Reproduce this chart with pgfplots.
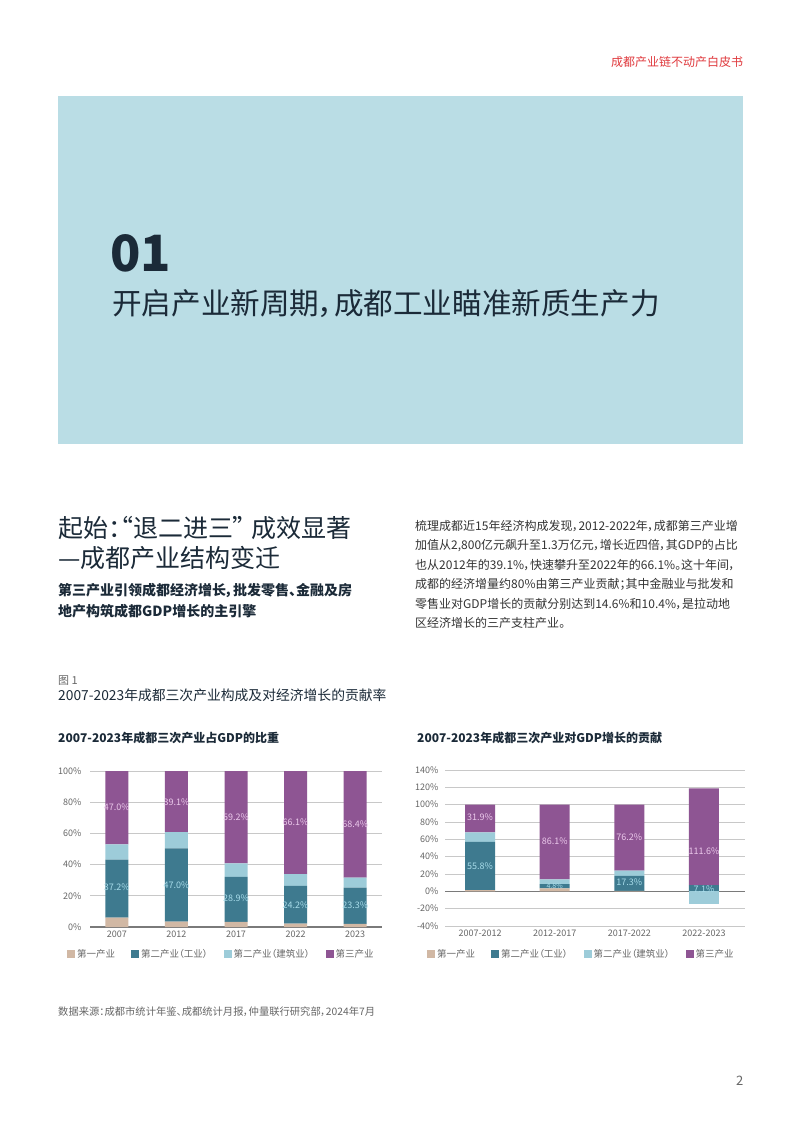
\documentclass[border=0pt]{standalone}
\usepackage{fontspec}
\setmainfont{Noto Sans CJK SC}[RawFeature=+palt]
\usepackage{pgfplots}
\pgfplotsset{compat=1.18}
\usepackage{pgfplotstable}
\pgfkeys{/pgf/number format/assume math mode=true}

\definecolor{cPri}{HTML}{D1B8A4}
\definecolor{cInd}{HTML}{3E7A8F}
\definecolor{cCon}{HTML}{9DCCD9}
\definecolor{cTer}{HTML}{8E5593}
\definecolor{cBox}{HTML}{BADDE5}
\definecolor{cNavy}{HTML}{1B2A38}
\definecolor{cText}{HTML}{333333}
\definecolor{cRed}{HTML}{E03A3E}
\definecolor{cGrid}{HTML}{C8C8C8}
\definecolor{cBase}{HTML}{7A7A7A}
\definecolor{cTick}{HTML}{666666}
\definecolor{cLabP}{HTML}{EBC9EB}
\definecolor{cLabT}{HTML}{A8DCEA}

% Left chart: share of GDP
\pgfplotstableread{
x pri ind con ter
0 6.0 37.2 9.8 47.0
1 3.4 47.0 10.5 39.1
2 3.3 28.9 8.6 59.2
3 2.2 24.2 7.5 66.1
4 2.0 23.3 6.3 68.4
}\leftdata
\pgfplotstableread{
x y v
0 76.7 47.0
1 80.0 39.1
2 70.3 59.2
3 67.0 66.1
4 65.8 68.4
}\leftterlab
\pgfplotstableread{
x y v
0 25.2 37.2
1 27.0 47.0
2 18.6 28.9
3 14.3 24.2
4 13.7 23.3
}\leftindlab

% Right chart: contribution to GDP growth
\pgfplotstableread{
x pri ind con ter
0 1.3 55.8 11.0 31.9
1 3.4 4.8 5.7 86.1
2 0.6 17.3 5.9 76.2
3 0.0 7.1 0.0 111.6
}\rightdata
\pgfplotstableread{
x y
3 -14.4
}\rightneg
\pgfplotstableread{
x y v
0 85.1 31.9
1 57.4 86.1
2 63.0 76.2
3 46.5 111.6
}\rightterlab
\pgfplotstableread{
x y v
0 29.4 55.8
2 10.0 17.3
3 2.0 7.1
}\rightindlab
\pgfplotstableread{
x y v
1 6.3 4.8
}\rightsmalllab

\pgfplotsset{
  barchart/.style={
    scale only axis,
    ybar stacked,
    axis line style={draw=none},
    tick style={draw=none},
    ymajorgrids,
    grid style={cGrid, line width=0.8pt},
    tick label style={font=\fontsize{9}{9}\selectfont, text=cTick},
    xtick=data,
    extra y ticks={0},
    extra y tick labels={},
    extra y tick style={grid style={cBase, line width=1.1pt}},
    legend columns=4,
    legend cell align=left,
    legend style={draw=none, fill=none, inner sep=0pt,
      font=\fontsize{9.5}{9.5}\selectfont, text=cTick,
      /tikz/every even column/.append style={column sep=14pt}},
    legend image code/.code={\fill[##1] (0pt,-4pt) rectangle (8pt,4pt);},
  },
  labelaxis/.style={scale only axis, hide axis, clip=false},
  lab/.style={only marks, mark=*, mark size=0pt, mark options={draw=none, fill=none},
    point meta=explicit,
    nodes near coords={\pgfmathprintnumber[fixed, fixed zerofill, precision=1]{\pgfplotspointmeta}\%},
    every node near coord/.append style={anchor=center, text=#1, font=\fontsize{9}{9}\selectfont}},
}

\begin{document}
\begin{tikzpicture}[x=1pt,y=1pt]
\useasboundingbox (0,0) rectangle (802,-1133);
\fill[white] (0,0) rectangle (802,-1133);

% header
\node[anchor=base west, inner sep=0, text=cRed, font=\fontsize{12}{12}\selectfont] at (611,-66.5) {成都产业链不动产白皮书};

% banner
\fill[cBox] (58,-96) rectangle (743,-444);
\node[anchor=base west, inner sep=0, text=cNavy, font=\fontsize{50}{50}\selectfont\bfseries] at (110,-271) {01};
\node[anchor=base west, inner sep=0, text=cNavy, font=\fontsize{29.6}{29.6}\selectfont] at (112,-314) {开启产业新周期，成都工业瞄准新质生产力};

% section heading
\node[anchor=base west, inner sep=0, text=cNavy, font=\fontsize{25}{25}\selectfont] at (58,-537) {起始：“退二进三” 成效显著};
\node[anchor=base west, inner sep=0, text=cNavy, font=\fontsize{25}{25}\selectfont] at (58,-567) {—成都产业结构变迁};
\node[anchor=base west, inner sep=0, text=cNavy, font=\fontsize{14}{14}\selectfont\bfseries] at (58,-595) {第三产业引领成都经济增长，批发零售、金融及房};
\node[anchor=base west, inner sep=0, text=cNavy, font=\fontsize{14}{14}\selectfont\bfseries] at (58,-616) {地产构筑成都GDP增长的主引擎};

% paragraph
\begin{scope}[every node/.style={anchor=base west, inner sep=0, text=cText, font=\fontsize{12}{12}\selectfont}]
\node at (415,-530) {梳理成都近15年经济构成发现，2012-2022年，成都第三产业增};
\node at (415,-549.5) {加值从2,800亿元飙升至1.3万亿元，增长近四倍，其GDP的占比};
\node at (415,-569) {也从2012年的39.1\%，快速攀升至2022年的66.1\%。这十年间，};
\node at (415,-588.5) {成都的经济增量约80\%由第三产业贡献；其中金融业与批发和};
\node at (415,-608) {零售业对GDP增长的贡献分别达到14.6\%和10.4\%，是拉动地};
\node at (415,-627.5) {区经济增长的三产支柱产业。};
\end{scope}

% figure caption
\node[anchor=base west, inner sep=0, text=cTick, font=\fontsize{11}{11}\selectfont] at (58,-684) {图 1};
\node[anchor=base west, inner sep=0, text=cNavy, font=\fontsize{13.8}{13.8}\selectfont] at (58,-700) {2007-2023年成都三次产业构成及对经济增长的贡献率};

% chart titles
\node[anchor=base west, inner sep=0, text=cNavy, font=\fontsize{12}{12}\selectfont\bfseries] at (58,-742.5) {2007-2023年成都三次产业占GDP的比重};
\node[anchor=base west, inner sep=0, text=cNavy, font=\fontsize{12}{12}\selectfont\bfseries] at (417,-742.5) {2007-2023年成都三次产业对GDP增长的贡献};

% ---------- left chart ----------
\begin{axis}[barchart, at={(90pt,-927pt)}, anchor=south west,
  width=292pt, height=156pt, bar width=23pt,
  xmin=-0.45, xmax=4.45, ymin=0, ymax=100,
  xticklabels={2007,2012,2017,2022,2023},
  ytick={0,20,40,60,80,100},
  yticklabels={0\%,20\%,40\%,60\%,80\%,100\%},
  yticklabel style={xshift=-5pt},
  legend style={at={(-0.079,-0.173)}, anchor=west},
]
\addplot[fill=cPri, draw=none] table[x=x, y=pri]{\leftdata};
\addplot[fill=cInd, draw=none] table[x=x, y=ind]{\leftdata};
\addplot[fill=cCon, draw=none] table[x=x, y=con]{\leftdata};
\addplot[fill=cTer, draw=none] table[x=x, y=ter]{\leftdata};
\legend{第一产业,第二产业（工业）,第二产业（建筑业）,第三产业}
\end{axis}
\begin{axis}[labelaxis, at={(90pt,-927pt)}, anchor=south west,
  width=292pt, height=156pt, xmin=-0.45, xmax=4.45, ymin=0, ymax=100]
\addplot[lab=cLabP] table[x=x, y=y, meta=v]{\leftterlab};
\addplot[lab=cLabT] table[x=x, y=y, meta=v]{\leftindlab};
\end{axis}

% ---------- right chart ----------
\begin{axis}[barchart, at={(445pt,-926pt)}, anchor=south west,
  width=300pt, height=156pt, bar width=30pt,
  xmin=-0.47, xmax=3.55, ymin=-40, ymax=140,
  xticklabels={2007-2012,2012-2017,2017-2022,2022-2023},
  ytick={-40,-20,0,20,40,60,80,100,120,140},
  yticklabels={-40\%,-20\%,0\%,20\%,40\%,60\%,80\%,100\%,120\%,140\%},
  yticklabel style={xshift=-3pt},
  legend style={at={(-0.06,-0.179)}, anchor=west},
]
\addplot[fill=cPri, draw=none] table[x=x, y=pri]{\rightdata};
\addplot[fill=cInd, draw=none] table[x=x, y=ind]{\rightdata};
\addplot[fill=cCon, draw=none] table[x=x, y=con]{\rightdata};
\addplot[fill=cTer, draw=none] table[x=x, y=ter]{\rightdata};
\legend{第一产业,第二产业（工业）,第二产业（建筑业）,第三产业}
\end{axis}
\begin{axis}[labelaxis, at={(445pt,-926pt)}, anchor=south west,
  width=300pt, height=156pt, xmin=-0.47, xmax=3.55, ymin=-40, ymax=140]
\addplot[ybar, bar width=30pt, bar shift=0pt, fill=cCon, draw=none] table[x=x, y=y]{\rightneg};
\addplot[lab=cLabP] table[x=x, y=y, meta=v]{\rightterlab};
\addplot[lab=cLabT] table[x=x, y=y, meta=v]{\rightindlab};
\addplot[lab=cLabT, every node near coord/.append style={font=\fontsize{7}{7}\selectfont}] table[x=x, y=y, meta=v]{\rightsmalllab};
\end{axis}

% source and page number
\node[anchor=base west, inner sep=0, text=cTick, font=\fontsize{10.3}{10.3}\selectfont] at (58,-1015) {数据来源：成都市统计年鉴、成都统计月报，仲量联行研究部，2024年7月};
\node[anchor=base west, inner sep=0, text=cTick, font=\fontsize{13}{13}\selectfont] at (736,-1085) {2};
\end{tikzpicture}
\end{document}
